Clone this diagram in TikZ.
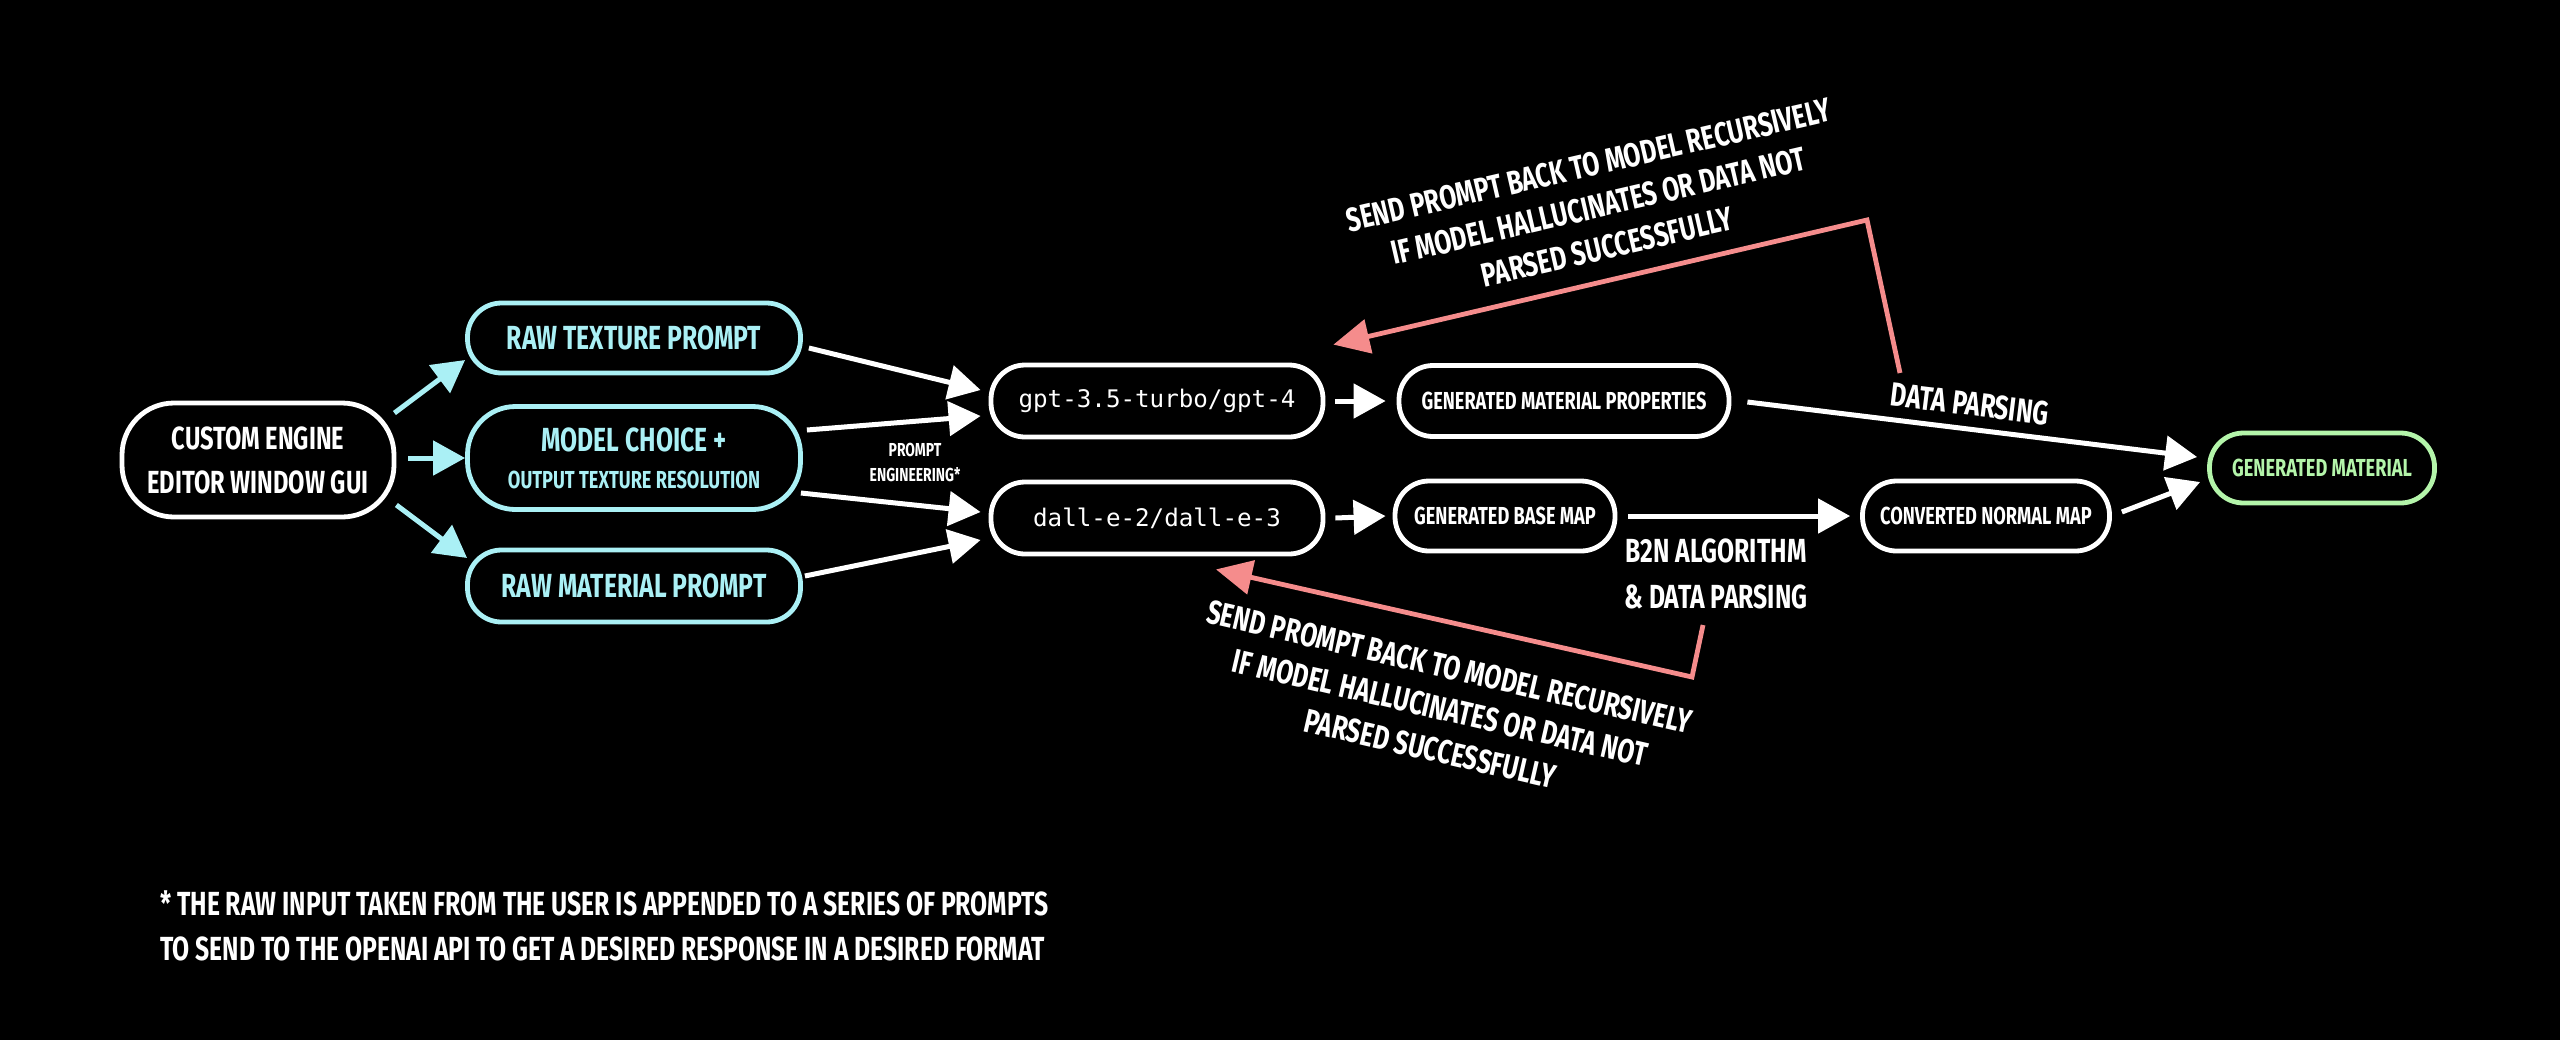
\documentclass[tikz,border=0pt]{standalone}
\usepackage{fontspec}
\setmainfont{Fira Sans}[FakeStretch=0.74]
\newfontfamily\monof{DejaVu Sans Mono}
\usetikzlibrary{arrows.meta,calc}
\definecolor{cyanc}{RGB}{170,240,245}
\definecolor{greenc}{RGB}{180,245,170}
\definecolor{redc}{RGB}{245,140,140}
\tikzset{
  box/.style={draw=white, line width=2.4pt, rounded corners=17pt, inner sep=0pt, text=white, align=center},
  cbox/.style={box, draw=cyanc, text=cyanc},
  gbox/.style={box, draw=greenc, text=greenc},
  bigf/.style={font=\bfseries\fontsize{16.7}{20}\selectfont},
  smallf/.style={font=\bfseries\fontsize{12.3}{15}\selectfont},
  monostyle/.style={font=\monof\fontsize{12.1}{14}\selectfont},
  arr/.style={draw=white, line width=2.5pt, -{Triangle[length=16pt,width=17pt]}},
  carr/.style={arr, draw=cyanc, fill=cyanc},
  rarr/.style={draw=redc, line width=2.4pt, line join=miter, -{Triangle[length=18pt,width=17pt]}},
  lbl/.style={text=white, align=center, inner sep=0pt},
}
\begin{document}
\begin{tikzpicture}[x=0.5pt,y=-0.5pt]
\fill[black] (0,0) rectangle (2560,1040);
\useasboundingbox (0,0) rectangle (2560,1040);

% nodes
\node[box, minimum width=136pt, minimum height=57pt, rounded corners=26pt, font=\bfseries\fontsize{16}{22}\selectfont] (eng) at (258,460) {CUSTOM ENGINE\\EDITOR WINDOW GUI};
\node[cbox, bigf, minimum width=166.5pt, minimum height=35pt] (rtp) at (634,338) {RAW TEXTURE PROMPT};
\node[cbox, minimum width=166.5pt, minimum height=51.5pt, rounded corners=24pt, font=\bfseries\fontsize{16.7}{18.5}\selectfont] (mc) at (634,458) {MODEL CHOICE +\\{\fontsize{12.3}{18.5}\selectfont OUTPUT TEXTURE RESOLUTION}};
\node[cbox, bigf, minimum width=166.5pt, minimum height=36pt] (rmp) at (634,586) {RAW MATERIAL PROMPT};

\node[box, monostyle, minimum width=166pt, minimum height=36pt] (gpt) at (1157,401) {gpt-3.5-turbo/gpt-4};
\node[box, monostyle, minimum width=166pt, minimum height=36pt] (dall) at (1157,518) {dall-e-2/dall-e-3};

\node[box, smallf, minimum width=165pt, minimum height=35.5pt] (gmp) at (1564,401) {GENERATED MATERIAL PROPERTIES};
\node[box, smallf, minimum width=110pt, minimum height=35pt] (gbm) at (1505,516) {GENERATED BASE MAP};
\node[box, smallf, minimum width=123.5pt, minimum height=35pt] (cnm) at (1986,516) {CONVERTED NORMAL MAP};
\node[gbox, smallf, minimum width=112.5pt, minimum height=35pt] (gm) at (2322,468) {GENERATED MATERIAL};

% labels
\node[lbl, font=\bfseries\fontsize{9.4}{12.5}\selectfont] (pe) at (915,462) {PROMPT\\ENGINEERING*};
\node[lbl, bigf, rotate=-7] (dp) at (1970,404) {DATA PARSING};
\node[lbl, font=\bfseries\fontsize{16.7}{23}\selectfont] (b2n) at (1716,574) {B2N ALGORITHM\\\& DATA PARSING};
\node[lbl, font=\bfseries\fontsize{16.7}{21}\selectfont, rotate=13] (fbt) at (1598,206) {SEND PROMPT BACK TO MODEL RECURSIVELY\\IF MODEL HALLUCINATES OR DATA NOT\\PARSED SUCCESSFULLY};
\node[lbl, font=\bfseries\fontsize{16.7}{21}\selectfont, rotate=-13] (fbb) at (1440,708) {SEND PROMPT BACK TO MODEL RECURSIVELY\\IF MODEL HALLUCINATES OR DATA NOT\\PARSED SUCCESSFULLY};
\node[lbl, align=left, anchor=west, font=\bfseries\fontsize{16.7}{22.5}\selectfont] (fn) at (160,926) {* THE RAW INPUT TAKEN FROM THE USER IS APPENDED TO A SERIES OF PROMPTS\\TO SEND TO THE OPENAI API TO GET A DESIRED RESPONSE IN A DESIRED FORMAT};

% cyan arrows
\draw[carr] ([shift={(-2,-47)}]eng.east) -- ([shift={(0,22)}]rtp.west);
\draw[carr] ([shift={(12,-2)}]eng.east) -- (mc.west);
\draw[carr] ([shift={(0,45)}]eng.east) -- ([shift={(2,-28)}]rmp.west);

% white arrows
\draw[arr] ([shift={(6,10)}]rtp.east) -- ([shift={(-8,-11)}]gpt.west);
\draw[arr] ([shift={(4,-28)}]mc.east) -- ([shift={(-8,15)}]gpt.west);
\draw[arr] ([shift={(-2,35)}]mc.east) -- ([shift={(-8,-6)}]dall.west);
\draw[arr] ([shift={(2,-10)}]rmp.east) -- ([shift={(-8,22)}]dall.west);
\draw[arr] ([xshift=5pt]gpt.east) -- ([xshift=-5.5pt]gmp.west);
\draw[arr] ([xshift=5pt]dall.east) -- ([xshift=-3.5pt]gbm.west);
\draw[arr] ([shift={(16,1)}]gmp.east) -- ([shift={(-10,-11)}]gm.west);
\draw[arr] ([xshift=5.5pt]gbm.east) -- ([xshift=-5pt]cnm.west);
\draw[arr] ([shift={(10,-4)}]cnm.east) -- ([shift={(-7,14)}]gm.west);

% red feedback arrows
\coordinate (t1) at (1900,373);
\coordinate (t2) at (1867,220);
\draw[rarr] (t1) -- (t2) -- ([shift={(8,-18)}]gpt.north east);
\coordinate (b1) at (1703,625);
\coordinate (b2) at (1692,677);
\draw[rarr] (b1) -- (b2) -- ([shift={(59,13)}]dall.south);
\end{tikzpicture}
\end{document}
